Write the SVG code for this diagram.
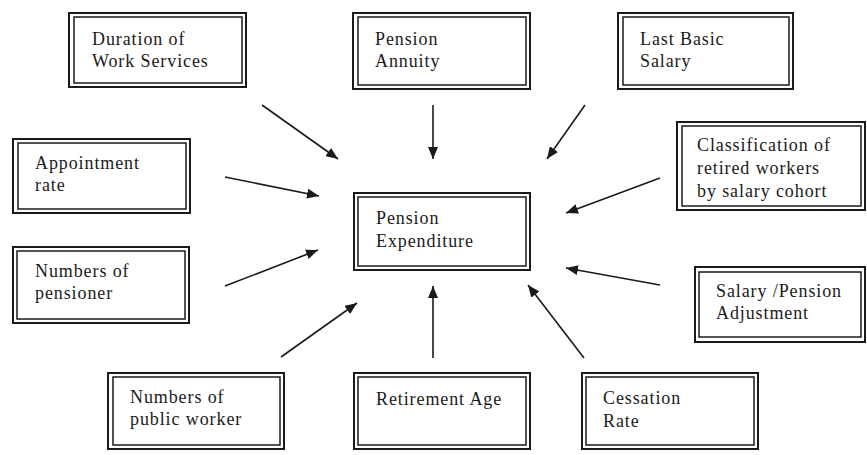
<svg xmlns="http://www.w3.org/2000/svg" width="867" height="455" viewBox="0 0 867 455">
  <style>
    .outer { fill: #ffffff; stroke: #1a1a1a; stroke-width: 2; }
    .inner { fill: none; stroke: #1a1a1a; stroke-width: 1.5; }
    .lbl { font-family: "Liberation Serif", "Times New Roman", serif; font-size: 18px; fill: #1a1a1a; letter-spacing: 0.9px; }
    .edge { stroke: #1a1a1a; stroke-width: 1.6; fill: none; marker-end: url(#head); }
  </style>
  <defs>
    <marker id="head" viewBox="0 0 12 10" refX="12" refY="5" markerWidth="12" markerHeight="10" markerUnits="userSpaceOnUse" orient="auto">
      <path d="M0,0 L12,5 L0,10 z" fill="#1a1a1a"/>
    </marker>
  </defs>
  <rect width="867" height="455" fill="#ffffff"/>

  <!-- connectors: every factor points at the central node -->
  <g id="connectors">
    <line class="edge" x1="262" y1="105" x2="338" y2="159"/>
    <line class="edge" x1="433" y1="105" x2="433" y2="159"/>
    <line class="edge" x1="585" y1="105" x2="547" y2="159"/>
    <line class="edge" x1="225" y1="177" x2="319" y2="196"/>
    <line class="edge" x1="225" y1="286" x2="318" y2="250"/>
    <line class="edge" x1="660" y1="178" x2="566" y2="213"/>
    <line class="edge" x1="660" y1="285" x2="566" y2="268"/>
    <line class="edge" x1="281" y1="357" x2="357" y2="303"/>
    <line class="edge" x1="433" y1="358" x2="433" y2="286"/>
    <line class="edge" x1="584" y1="358" x2="528" y2="285"/>
  </g>

  <g id="duration">
    <rect class="outer" x="69" y="13" width="177" height="74"/>
    <rect class="inner" x="74" y="17" width="168" height="66"/>
    <text class="lbl" x="92" y="45">Duration of</text>
    <text class="lbl" x="92" y="67">Work Services</text>
  </g>

  <g id="annuity">
    <rect class="outer" x="353" y="13" width="177" height="76"/>
    <rect class="inner" x="358" y="17" width="168" height="68"/>
    <text class="lbl" x="375" y="45">Pension</text>
    <text class="lbl" x="375" y="67">Annuity</text>
  </g>

  <g id="salary">
    <rect class="outer" x="618" y="13" width="175" height="76"/>
    <rect class="inner" x="623" y="17" width="166" height="68"/>
    <text class="lbl" x="640" y="45">Last Basic</text>
    <text class="lbl" x="640" y="67">Salary</text>
  </g>

  <g id="appointment">
    <rect class="outer" x="13" y="139" width="177" height="74"/>
    <rect class="inner" x="18" y="143" width="168" height="66"/>
    <text class="lbl" x="35" y="169">Appointment</text>
    <text class="lbl" x="35" y="191">rate</text>
  </g>

  <g id="classification">
    <rect class="outer" x="677" y="122" width="188" height="88"/>
    <rect class="inner" x="682" y="126" width="179" height="80"/>
    <text class="lbl" x="697" y="151">Classification of</text>
    <text class="lbl" x="697" y="174">retired workers</text>
    <text class="lbl" x="697" y="197">by salary cohort</text>
  </g>

  <g id="expenditure">
    <rect class="outer" x="354" y="193" width="176" height="77"/>
    <rect class="inner" x="358" y="197" width="168" height="69"/>
    <text class="lbl" x="376" y="224">Pension</text>
    <text class="lbl" x="376" y="247">Expenditure</text>
  </g>

  <g id="pensioner">
    <rect class="outer" x="13" y="247" width="176" height="76"/>
    <rect class="inner" x="17" y="251" width="168" height="68"/>
    <text class="lbl" x="35" y="277">Numbers of</text>
    <text class="lbl" x="35" y="299">pensioner</text>
  </g>

  <g id="adjustment">
    <rect class="outer" x="695" y="267" width="170" height="75"/>
    <rect class="inner" x="699" y="272" width="162" height="65"/>
    <text class="lbl" x="716" y="297">Salary /Pension</text>
    <text class="lbl" x="716" y="319">Adjustment</text>
  </g>

  <g id="public-worker">
    <rect class="outer" x="108" y="373" width="176" height="76"/>
    <rect class="inner" x="113" y="377" width="167" height="68"/>
    <text class="lbl" x="130" y="403">Numbers of</text>
    <text class="lbl" x="130" y="425">public worker</text>
  </g>

  <g id="retirement-age">
    <rect class="outer" x="354" y="373" width="176" height="76"/>
    <rect class="inner" x="358" y="377" width="168" height="68"/>
    <text class="lbl" x="376" y="405">Retirement Age</text>
  </g>

  <g id="cessation">
    <rect class="outer" x="582" y="373" width="176" height="76"/>
    <rect class="inner" x="586" y="377" width="168" height="68"/>
    <text class="lbl" x="603" y="404">Cessation</text>
    <text class="lbl" x="603" y="427">Rate</text>
  </g>
</svg>
